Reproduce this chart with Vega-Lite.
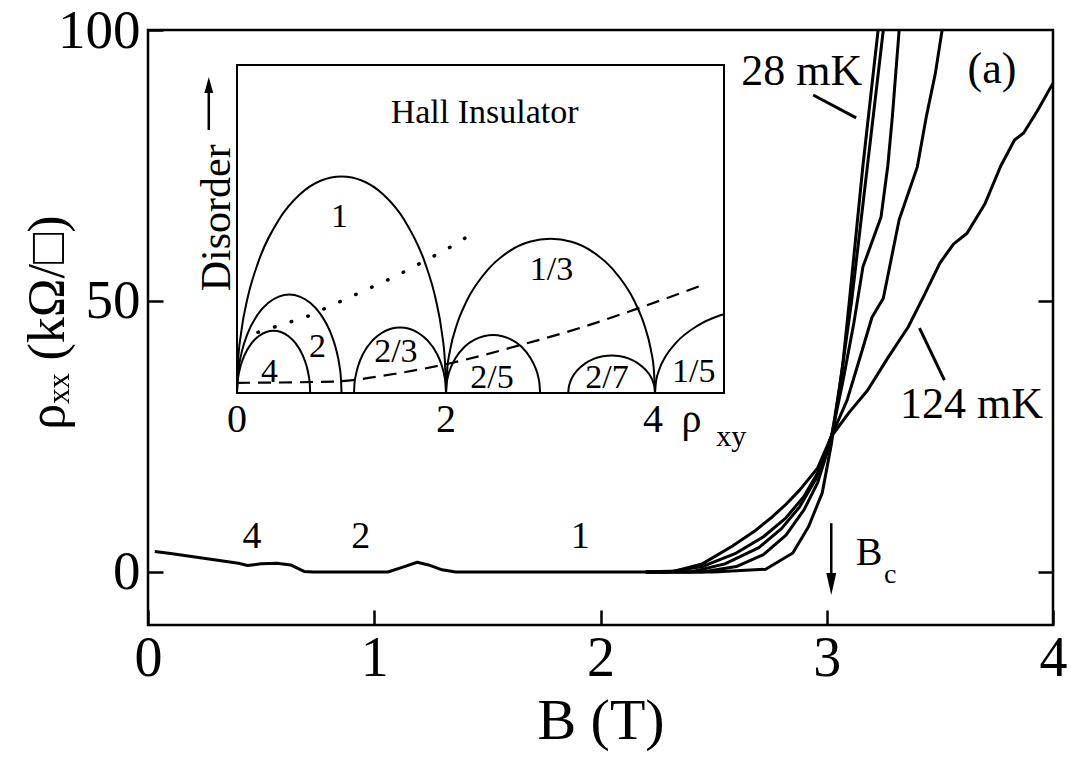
{
"$schema": "https://vega.github.io/schema/vega-lite/v6.json",
"width": 905, "height": 595,
"autosize": {"type": "none"},
"padding": {"left": 148, "top": 30, "right": 18, "bottom": 146},
"background": "white",
"config": {"font": "Liberation Serif", "view": {"stroke": "black", "strokeWidth": 2.5}},
"datasets": {
"curves": [
{"T":"all","B":0.03,"rho":3.8},{"T":"all","B":0.1,"rho":3.4},{"T":"all","B":0.2,"rho":2.8},{"T":"all","B":0.3,"rho":2.2},{"T":"all","B":0.4,"rho":1.6},{"T":"all","B":0.44,"rho":1.2},{"T":"all","B":0.5,"rho":1.5},{"T":"all","B":0.57,"rho":1.6},{"T":"all","B":0.63,"rho":1.3},{"T":"all","B":0.69,"rho":0.1},{"T":"all","B":0.73,"rho":0},{"T":"all","B":1.06,"rho":0},{"T":"all","B":1.12,"rho":0.8},{"T":"all","B":1.19,"rho":1.8},{"T":"all","B":1.24,"rho":1.3},{"T":"all","B":1.3,"rho":0.4},{"T":"all","B":1.36,"rho":0},{"T":"all","B":2.2,"rho":0},
{"T":"28 mK","B":2.2,"rho":0},{"T":"28 mK","B":2.5,"rho":0},{"T":"28 mK","B":2.73,"rho":0.5},{"T":"28 mK","B":2.85,"rho":3.5},{"T":"28 mK","B":2.92,"rho":8.4},{"T":"28 mK","B":2.98,"rho":14.6},{"T":"28 mK","B":3.02,"rho":23.5},{"T":"28 mK","B":3.07,"rho":38},{"T":"28 mK","B":3.1,"rho":50},{"T":"28 mK","B":3.16,"rho":75},{"T":"28 mK","B":3.227,"rho":100},
{"T":"T2","B":2.2,"rho":0},{"T":"T2","B":2.45,"rho":0},{"T":"T2","B":2.6,"rho":1.0},{"T":"T2","B":2.72,"rho":3.2},{"T":"T2","B":2.82,"rho":6.8},{"T":"T2","B":2.9,"rho":11.5},{"T":"T2","B":2.96,"rho":16.5},{"T":"T2","B":3.02,"rho":24.5},{"T":"T2","B":3.06,"rho":35},{"T":"T2","B":3.11,"rho":50},{"T":"T2","B":3.18,"rho":75},{"T":"T2","B":3.25,"rho":100},
{"T":"T3","B":2.2,"rho":0},{"T":"T3","B":2.4,"rho":0},{"T":"T3","B":2.55,"rho":1.5},{"T":"T3","B":2.7,"rho":4.5},{"T":"T3","B":2.8,"rho":8},{"T":"T3","B":2.88,"rho":12},{"T":"T3","B":2.95,"rho":17},{"T":"T3","B":3.02,"rho":25},{"T":"T3","B":3.07,"rho":34.9},{"T":"T3","B":3.12,"rho":46},{"T":"T3","B":3.16,"rho":56.3},{"T":"T3","B":3.24,"rho":65.5},{"T":"T3","B":3.27,"rho":75},{"T":"T3","B":3.29,"rho":84},{"T":"T3","B":3.32,"rho":100},
{"T":"T4","B":2.2,"rho":0},{"T":"T4","B":2.3,"rho":0},{"T":"T4","B":2.45,"rho":1},{"T":"T4","B":2.6,"rho":3.5},{"T":"T4","B":2.72,"rho":6.5},{"T":"T4","B":2.82,"rho":10},{"T":"T4","B":2.9,"rho":14},{"T":"T4","B":2.97,"rho":19},{"T":"T4","B":3.02,"rho":25},{"T":"T4","B":3.09,"rho":31.7},{"T":"T4","B":3.15,"rho":40},{"T":"T4","B":3.2,"rho":47},{"T":"T4","B":3.25,"rho":50.5},{"T":"T4","B":3.32,"rho":65},{"T":"T4","B":3.4,"rho":74.7},{"T":"T4","B":3.44,"rho":84},{"T":"T4","B":3.48,"rho":92},{"T":"T4","B":3.51,"rho":100},
{"T":"124 mK","B":2.2,"rho":0},{"T":"124 mK","B":2.33,"rho":0.2},{"T":"124 mK","B":2.45,"rho":1.5},{"T":"124 mK","B":2.58,"rho":4.7},{"T":"124 mK","B":2.68,"rho":7.5},{"T":"124 mK","B":2.76,"rho":10.2},{"T":"124 mK","B":2.82,"rho":12.5},{"T":"124 mK","B":2.88,"rho":15.1},{"T":"124 mK","B":2.96,"rho":19.2},{"T":"124 mK","B":3.02,"rho":25},{"T":"124 mK","B":3.1,"rho":29.5},{"T":"124 mK","B":3.18,"rho":33.5},{"T":"124 mK","B":3.27,"rho":39.5},{"T":"124 mK","B":3.36,"rho":45.2},{"T":"124 mK","B":3.43,"rho":51},{"T":"124 mK","B":3.5,"rho":57},{"T":"124 mK","B":3.56,"rho":60.5},{"T":"124 mK","B":3.62,"rho":62.5},{"T":"124 mK","B":3.7,"rho":68},{"T":"124 mK","B":3.77,"rho":75},{"T":"124 mK","B":3.83,"rho":79.7},{"T":"124 mK","B":3.87,"rho":81},{"T":"124 mK","B":3.93,"rho":85},{"T":"124 mK","B":4.0,"rho":90.2}
],
"pointers": [
{"p":"28","B":2.94,"rho":88},{"p":"28","B":3.13,"rho":83.8},
{"p":"124","B":3.41,"rho":45},{"p":"124","B":3.52,"rho":35.4}
],
"bigLabels": [
{"t":"28 mK","B":2.89,"rho":92.3},{"t":"124 mK","B":3.64,"rho":30.8},{"t":"(a)","B":3.73,"rho":92.6}
],
"smallLabels": [
{"t":"4","B":0.46,"rho":6.5},{"t":"2","B":0.94,"rho":6.5},{"t":"1","B":1.91,"rho":6.5}
],
"bc": [{"t":"B","B":3.187,"rho":3.5}],
"bcSub": [{"t":"c","B":3.28,"rho":-0.6}],
"arrow": [{"B":3.02,"rho":9,"rho2":-1.5}],
"arrowHead": [{"B":3.02,"rho":-2.2}],
"arcs": [
{"a":"1","x":0,"y":0},{"a":"1","x":0.01,"y":9.3},{"a":"1","x":0.04,"y":18.5},{"a":"1","x":0.1,"y":28.8},{"a":"1","x":0.2,"y":39.6},{"a":"1","x":0.4,"y":52.8},{"a":"1","x":0.6,"y":60.5},{"a":"1","x":0.8,"y":64.7},{"a":"1","x":1.0,"y":66},{"a":"1","x":1.2,"y":64.7},{"a":"1","x":1.4,"y":60.5},{"a":"1","x":1.6,"y":52.8},{"a":"1","x":1.8,"y":39.6},{"a":"1","x":1.9,"y":28.8},{"a":"1","x":1.96,"y":18.5},{"a":"1","x":1.99,"y":9.3},{"a":"1","x":2,"y":0},
{"a":"1/3","x":2,"y":0},{"a":"1/3","x":2.01,"y":6.6},{"a":"1/3","x":2.04,"y":13.2},{"a":"1/3","x":2.1,"y":20.5},{"a":"1/3","x":2.2,"y":28.2},{"a":"1/3","x":2.4,"y":37.6},{"a":"1/3","x":2.6,"y":43.1},{"a":"1/3","x":2.8,"y":46.1},{"a":"1/3","x":3.0,"y":47},{"a":"1/3","x":3.2,"y":46.1},{"a":"1/3","x":3.4,"y":43.1},{"a":"1/3","x":3.6,"y":37.6},{"a":"1/3","x":3.8,"y":28.2},{"a":"1/3","x":3.9,"y":20.5},{"a":"1/3","x":3.96,"y":13.2},{"a":"1/3","x":3.99,"y":6.6},{"a":"1/3","x":4,"y":0},
{"a":"2","x":0,"y":0},{"a":"2","x":0.005,"y":4.2},{"a":"2","x":0.02,"y":8.4},{"a":"2","x":0.05,"y":13.1},{"a":"2","x":0.1,"y":18},{"a":"2","x":0.2,"y":24},{"a":"2","x":0.3,"y":27.5},{"a":"2","x":0.4,"y":29.4},{"a":"2","x":0.5,"y":30},{"a":"2","x":0.6,"y":29.4},{"a":"2","x":0.7,"y":27.5},{"a":"2","x":0.8,"y":24},{"a":"2","x":0.9,"y":18},{"a":"2","x":0.95,"y":13.1},{"a":"2","x":0.98,"y":8.4},{"a":"2","x":0.995,"y":4.2},{"a":"2","x":1.0,"y":0},
{"a":"4","x":0,"y":0},{"a":"4","x":0.0035,"y":2.7},{"a":"4","x":0.014,"y":5.3},{"a":"4","x":0.035,"y":8.3},{"a":"4","x":0.07,"y":11.4},{"a":"4","x":0.14,"y":15.2},{"a":"4","x":0.21,"y":17.4},{"a":"4","x":0.28,"y":18.6},{"a":"4","x":0.35,"y":19},{"a":"4","x":0.42,"y":18.6},{"a":"4","x":0.49,"y":17.4},{"a":"4","x":0.56,"y":15.2},{"a":"4","x":0.63,"y":11.4},{"a":"4","x":0.665,"y":8.3},{"a":"4","x":0.686,"y":5.3},{"a":"4","x":0.6965,"y":2.7},{"a":"4","x":0.7,"y":0},
{"a":"2/3","x":1.12,"y":0},{"a":"2/3","x":1.124,"y":2.8},{"a":"2/3","x":1.138,"y":5.6},{"a":"2/3","x":1.164,"y":8.7},{"a":"2/3","x":1.208,"y":12},{"a":"2/3","x":1.296,"y":16},{"a":"2/3","x":1.384,"y":18.3},{"a":"2/3","x":1.472,"y":19.6},{"a":"2/3","x":1.56,"y":20},{"a":"2/3","x":1.648,"y":19.6},{"a":"2/3","x":1.736,"y":18.3},{"a":"2/3","x":1.824,"y":16},{"a":"2/3","x":1.912,"y":12},{"a":"2/3","x":1.956,"y":8.7},{"a":"2/3","x":1.982,"y":5.6},{"a":"2/3","x":1.996,"y":2.8},{"a":"2/3","x":2.0,"y":0},
{"a":"2/5","x":2.0,"y":0},{"a":"2/5","x":2.0045,"y":2.5},{"a":"2/5","x":2.018,"y":5.0},{"a":"2/5","x":2.045,"y":7.7},{"a":"2/5","x":2.09,"y":10.6},{"a":"2/5","x":2.18,"y":14.2},{"a":"2/5","x":2.27,"y":16.2},{"a":"2/5","x":2.36,"y":17.3},{"a":"2/5","x":2.45,"y":17.7},{"a":"2/5","x":2.54,"y":17.3},{"a":"2/5","x":2.63,"y":16.2},{"a":"2/5","x":2.72,"y":14.2},{"a":"2/5","x":2.81,"y":10.6},{"a":"2/5","x":2.855,"y":7.7},{"a":"2/5","x":2.882,"y":5.0},{"a":"2/5","x":2.8955,"y":2.5},{"a":"2/5","x":2.9,"y":0},
{"a":"2/7","x":3.17,"y":0},{"a":"2/7","x":3.174,"y":1.6},{"a":"2/7","x":3.187,"y":3.2},{"a":"2/7","x":3.212,"y":5.0},{"a":"2/7","x":3.253,"y":6.8},{"a":"2/7","x":3.336,"y":9.1},{"a":"2/7","x":3.419,"y":10.5},{"a":"2/7","x":3.502,"y":11.2},{"a":"2/7","x":3.585,"y":11.4},{"a":"2/7","x":3.668,"y":11.2},{"a":"2/7","x":3.751,"y":10.5},{"a":"2/7","x":3.834,"y":9.1},{"a":"2/7","x":3.917,"y":6.8},{"a":"2/7","x":3.959,"y":5.0},{"a":"2/7","x":3.983,"y":3.2},{"a":"2/7","x":3.996,"y":1.6},{"a":"2/7","x":4.0,"y":0},
{"a":"1/5","x":4.0,"y":0},{"a":"1/5","x":4.01,"y":3.6},{"a":"1/5","x":4.04,"y":7.1},{"a":"1/5","x":4.1,"y":11.1},{"a":"1/5","x":4.2,"y":15.3},{"a":"1/5","x":4.4,"y":20.4},{"a":"1/5","x":4.6,"y":23.4},{"a":"1/5","x":4.66,"y":24.0}
],
"dots": [
{"x":0.2,"y":18.5},{"x":0.67,"y":23.3},{"x":1.01,"y":28.2},{"x":1.52,"y":35.6},{"x":2.01,"y":43.9},{"x":2.18,"y":47.2}
],
"dash": [
{"x":0,"y":3.1},{"x":0.93,"y":3.5},{"x":1.5,"y":5.8},{"x":2.03,"y":9.0},{"x":2.71,"y":14.6},{"x":3.3,"y":20},{"x":3.81,"y":25.5},{"x":4.43,"y":32.6}
],
"insetLabels": [
{"t":"1","x":0.98,"y":53.8},{"t":"1/3","x":3.01,"y":37.5},{"t":"2","x":0.77,"y":14.1},{"t":"4","x":0.31,"y":6.5},{"t":"2/3","x":1.52,"y":12.6},{"t":"2/5","x":2.44,"y":4.5},{"t":"2/7","x":3.54,"y":4.5},{"t":"1/5","x":4.37,"y":6.5}
],
"insetTicks": [
{"t":"0","x":0,"y":-8.2},{"t":"2","x":2,"y":-8.2},{"t":"4","x":3.98,"y":-8.2},{"t":"ρ","x":4.35,"y":-8.2}
],
"box": [{"x0":0,"x1":4.66,"y0":0,"y1":100}]
},
"layer": [
{
"layer": [
{"data": {"name": "curves"},
 "mark": {"type": "line", "color": "black", "strokeWidth": 3, "strokeJoin": "round"},
 "encoding": {
  "x": {"field": "B", "type": "quantitative", "scale": {"domain": [0, 4], "nice": false, "zero": false},
        "axis": {"orient": "bottom", "title": "B (T)", "values": [0,1,2,3,4], "format": "d", "domain": false, "grid": false,
                 "tickSize": -15, "tickWidth": 2.5, "tickColor": "black", "labelFont": "Liberation Serif", "labelFontSize": 56,
                 "labelColor": "black", "labelPadding": 21, "labelFlush": false, "titleFont": "Liberation Serif", "titleFontSize": 58,
                 "titleFontWeight": "normal", "titleColor": "black", "titlePadding": 6}},
  "y": {"field": "rho", "type": "quantitative", "scale": {"domain": [-9.78, 100], "nice": false, "zero": false},
        "axis": {"orient": "left", "title": "ρₓₓ (kΩ/□)", "values": [0,50,100], "domain": false, "grid": false,
                 "tickSize": -15, "tickWidth": 2.5, "tickColor": "black", "labelFont": "Liberation Serif", "labelFontSize": 55,
                 "labelColor": "black", "labelPadding": 23, "labelFlush": false, "titleFont": "Liberation Serif", "titleFontSize": 52,
                 "titleFontWeight": "normal", "titleColor": "black", "titleAngle": 270, "titleAlign": "center",
                 "titleBaseline": "alphabetic", "titleX": -85, "titleY": 292}},
  "detail": {"field": "T"}
 }},
{"data": {"name": "pointers"},
 "mark": {"type": "line", "color": "black", "strokeWidth": 3},
 "encoding": {
  "x": {"field": "B", "type": "quantitative", "scale": {"domain": [0, 4], "nice": false, "zero": false}, "axis": null},
  "y": {"field": "rho", "type": "quantitative", "scale": {"domain": [-9.78, 100], "nice": false, "zero": false}, "axis": null},
  "detail": {"field": "p"}
 }},
{"data": {"name": "bigLabels"},
 "mark": {"type": "text", "font": "Liberation Serif", "fontSize": 44, "color": "black", "align": "center", "baseline": "middle"},
 "encoding": {
  "x": {"field": "B", "type": "quantitative", "scale": {"domain": [0, 4], "nice": false, "zero": false}, "axis": null},
  "y": {"field": "rho", "type": "quantitative", "scale": {"domain": [-9.78, 100], "nice": false, "zero": false}, "axis": null},
  "text": {"field": "t"}
 }},
{"data": {"name": "smallLabels"},
 "mark": {"type": "text", "font": "Liberation Serif", "fontSize": 38, "color": "black", "align": "center", "baseline": "middle"},
 "encoding": {
  "x": {"field": "B", "type": "quantitative", "scale": {"domain": [0, 4], "nice": false, "zero": false}, "axis": null},
  "y": {"field": "rho", "type": "quantitative", "scale": {"domain": [-9.78, 100], "nice": false, "zero": false}, "axis": null},
  "text": {"field": "t"}
 }},
{"data": {"name": "bc"},
 "mark": {"type": "text", "font": "Liberation Serif", "fontSize": 40, "color": "black", "align": "center", "baseline": "middle"},
 "encoding": {
  "x": {"field": "B", "type": "quantitative", "scale": {"domain": [0, 4], "nice": false, "zero": false}, "axis": null},
  "y": {"field": "rho", "type": "quantitative", "scale": {"domain": [-9.78, 100], "nice": false, "zero": false}, "axis": null},
  "text": {"field": "t"}
 }},
{"data": {"name": "bcSub"},
 "mark": {"type": "text", "font": "Liberation Serif", "fontSize": 28, "color": "black", "align": "center", "baseline": "middle"},
 "encoding": {
  "x": {"field": "B", "type": "quantitative", "scale": {"domain": [0, 4], "nice": false, "zero": false}, "axis": null},
  "y": {"field": "rho", "type": "quantitative", "scale": {"domain": [-9.78, 100], "nice": false, "zero": false}, "axis": null},
  "text": {"field": "t"}
 }},
{"data": {"name": "arrow"},
 "mark": {"type": "rule", "color": "black", "strokeWidth": 2.5},
 "encoding": {
  "x": {"field": "B", "type": "quantitative", "scale": {"domain": [0, 4], "nice": false, "zero": false}, "axis": null},
  "y": {"field": "rho", "type": "quantitative", "scale": {"domain": [-9.78, 100], "nice": false, "zero": false},
        "axis": {"orient": "right", "title": null, "labels": false, "values": [0, 50], "domain": false, "grid": false,
                 "tickSize": -15, "tickWidth": 2.5, "tickColor": "black"}},
  "y2": {"field": "rho2"}
 }},
{"data": {"name": "arrowHead"},
 "mark": {"type": "point", "shape": "M-0.45,-1L0.45,-1L0,1Z", "size": 484, "filled": true, "color": "black", "opacity": 1},
 "encoding": {
  "x": {"field": "B", "type": "quantitative", "scale": {"domain": [0, 4], "nice": false, "zero": false}, "axis": null},
  "y": {"field": "rho", "type": "quantitative", "scale": {"domain": [-9.78, 100], "nice": false, "zero": false}, "axis": null}
 }}
],
"resolve": {"axis": {"x": "independent", "y": "independent"}}
},
{
"layer": [
{"data": {"name": "box"},
 "mark": {"type": "rect", "fill": "white", "stroke": "black", "strokeWidth": 2},
 "encoding": {
  "x": {"field": "x0", "type": "quantitative", "scale": {"domain": [0, 4.66], "range": [89, 576], "nice": false, "zero": false}, "axis": null},
  "x2": {"field": "x1"},
  "y": {"field": "y0", "type": "quantitative", "scale": {"domain": [0, 100], "range": [363, 35], "nice": false, "zero": false}, "axis": null},
  "y2": {"field": "y1"}
 }},
{"data": {"name": "arcs"},
 "mark": {"type": "line", "color": "black", "strokeWidth": 2, "interpolate": "monotone"},
 "encoding": {
  "x": {"field": "x", "type": "quantitative", "scale": {"domain": [0, 4.66], "range": [89, 576], "nice": false, "zero": false}, "axis": null},
  "y": {"field": "y", "type": "quantitative", "scale": {"domain": [0, 100], "range": [363, 35], "nice": false, "zero": false}, "axis": null},
  "detail": {"field": "a"}
 }},
{"data": {"name": "dots"},
 "mark": {"type": "line", "color": "black", "strokeWidth": 3.5, "strokeCap": "round", "strokeDash": [0.5, 17]},
 "encoding": {
  "x": {"field": "x", "type": "quantitative", "scale": {"domain": [0, 4.66], "range": [89, 576], "nice": false, "zero": false}, "axis": null},
  "y": {"field": "y", "type": "quantitative", "scale": {"domain": [0, 100], "range": [363, 35], "nice": false, "zero": false}, "axis": null}
 }},
{"data": {"name": "dash"},
 "mark": {"type": "line", "color": "black", "strokeWidth": 2.2, "strokeDash": [13, 8], "interpolate": "monotone"},
 "encoding": {
  "x": {"field": "x", "type": "quantitative", "scale": {"domain": [0, 4.66], "range": [89, 576], "nice": false, "zero": false}, "axis": null},
  "y": {"field": "y", "type": "quantitative", "scale": {"domain": [0, 100], "range": [363, 35], "nice": false, "zero": false}, "axis": null}
 }},
{"data": {"name": "insetLabels"},
 "mark": {"type": "text", "font": "Liberation Serif", "fontSize": 34, "color": "black", "align": "center", "baseline": "middle"},
 "encoding": {
  "x": {"field": "x", "type": "quantitative", "scale": {"domain": [0, 4.66], "range": [89, 576], "nice": false, "zero": false}, "axis": null},
  "y": {"field": "y", "type": "quantitative", "scale": {"domain": [0, 100], "range": [363, 35], "nice": false, "zero": false}, "axis": null},
  "text": {"field": "t"}
 }},
{"data": {"name": "insetTicks"},
 "mark": {"type": "text", "font": "Liberation Serif", "fontSize": 40, "color": "black", "align": "center", "baseline": "middle"},
 "encoding": {
  "x": {"field": "x", "type": "quantitative", "scale": {"domain": [0, 4.66], "range": [89, 576], "nice": false, "zero": false}, "axis": null},
  "y": {"field": "y", "type": "quantitative", "scale": {"domain": [0, 100], "range": [363, 35], "nice": false, "zero": false}, "axis": null},
  "text": {"field": "t"}
 }},
{"data": {"values": [{"t": "Hall Insulator", "x": 2.37, "y": 85.3}]},
 "mark": {"type": "text", "font": "Liberation Serif", "fontSize": 34, "color": "black", "align": "center", "baseline": "middle"},
 "encoding": {
  "x": {"field": "x", "type": "quantitative", "scale": {"domain": [0, 4.66], "range": [89, 576], "nice": false, "zero": false}, "axis": null},
  "y": {"field": "y", "type": "quantitative", "scale": {"domain": [0, 100], "range": [363, 35], "nice": false, "zero": false}, "axis": null},
  "text": {"field": "t"}
 }},
{"data": {"values": [{"t": "Disorder", "x": -0.19, "y": 53.4}]},
 "mark": {"type": "text", "font": "Liberation Serif", "fontSize": 42, "color": "black", "align": "center", "baseline": "middle", "angle": 270},
 "encoding": {
  "x": {"field": "x", "type": "quantitative", "scale": {"domain": [0, 4.66], "range": [89, 576], "nice": false, "zero": false}, "axis": null},
  "y": {"field": "y", "type": "quantitative", "scale": {"domain": [0, 100], "range": [363, 35], "nice": false, "zero": false}, "axis": null},
  "text": {"field": "t"}
 }},
{"data": {"values": [{"x": -0.27, "y": 80.2, "y2": 91.5}]},
 "mark": {"type": "rule", "color": "black", "strokeWidth": 2.5},
 "encoding": {
  "x": {"field": "x", "type": "quantitative", "scale": {"domain": [0, 4.66], "range": [89, 576], "nice": false, "zero": false}, "axis": null},
  "y": {"field": "y", "type": "quantitative", "scale": {"domain": [0, 100], "range": [363, 35], "nice": false, "zero": false}, "axis": null},
  "y2": {"field": "y2"}
 }},
{"data": {"values": [{"x": -0.27, "y": 93.9}]},
 "mark": {"type": "point", "shape": "M-0.55,1L0.55,1L0,-1Z", "size": 256, "filled": true, "color": "black", "opacity": 1},
 "encoding": {
  "x": {"field": "x", "type": "quantitative", "scale": {"domain": [0, 4.66], "range": [89, 576], "nice": false, "zero": false}, "axis": null},
  "y": {"field": "y", "type": "quantitative", "scale": {"domain": [0, 100], "range": [363, 35], "nice": false, "zero": false}, "axis": null}
 }},
{"data": {"values": [{"t": "xy", "x": 4.73, "y": -13.4}]},
 "mark": {"type": "text", "font": "Liberation Serif", "fontSize": 30, "color": "black", "align": "center", "baseline": "middle"},
 "encoding": {
  "x": {"field": "x", "type": "quantitative", "scale": {"domain": [0, 4.66], "range": [89, 576], "nice": false, "zero": false}, "axis": null},
  "y": {"field": "y", "type": "quantitative", "scale": {"domain": [0, 100], "range": [363, 35], "nice": false, "zero": false}, "axis": null},
  "text": {"field": "t"}
 }}
]
}
],
"resolve": {"scale": {"x": "independent", "y": "independent"}, "axis": {"x": "independent", "y": "independent"}}
}
